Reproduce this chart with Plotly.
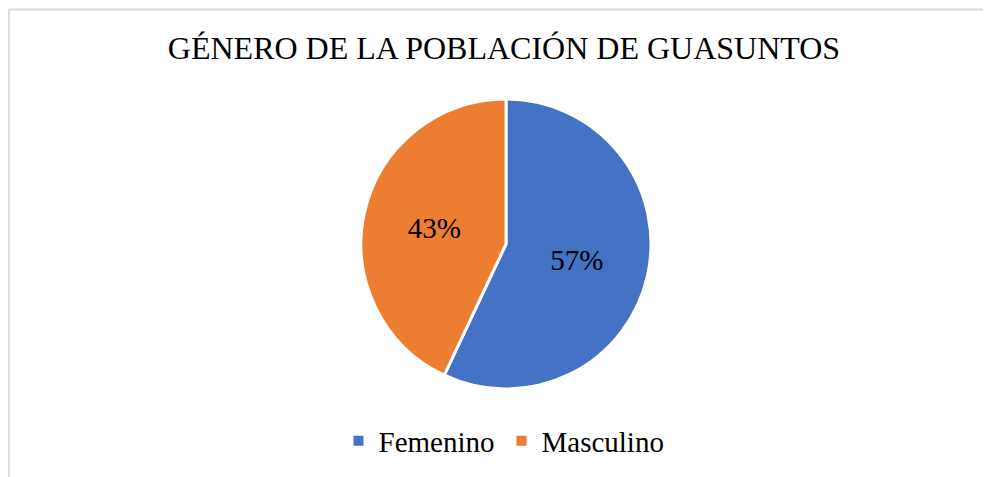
import plotly.graph_objects as go

categories = ["Femenino", "Masculino"]
values = [57, 43]
colors = ["#4472C4", "#ED7D31"]
title_text = "GÉNERO DE LA POBLACIÓN DE GUASUNTOS"

W, H = 991, 477
OFF = 8  # page body margin offset
cx, cy, r = 506 - OFF, 244 - OFF, 145
SERIF = "Liberation Serif, Times New Roman, serif"

fig = go.Figure(go.Pie(
    labels=categories,
    values=values,
    sort=False,
    direction="clockwise",
    rotation=0,
    marker=dict(colors=colors, line=dict(color="white", width=3)),
    textinfo="percent",
    texttemplate="%{percent:.0%}",
    textposition="inside",
    insidetextorientation="horizontal",
    textfont=dict(family=SERIF, size=29, color="#000000"),
    insidetextfont=dict(family=SERIF, size=29, color="#000000"),
    domain=dict(x=[(cx - r) / W, (cx + r) / W], y=[(H - cy - r) / H, (H - cy + r) / H]),
    hoverinfo="label+percent",
))

fig.update_layout(
    width=W, height=H,
    margin=dict(l=0, r=0, t=0, b=0, autoexpand=False),
    font=dict(family=SERIF, color="#000000"),
    paper_bgcolor="white",
    plot_bgcolor="white",
    title=dict(text=title_text, x=(504 - OFF) / W, xanchor="center", y=1 - (48 - OFF) / H, yanchor="middle",
               font=dict(family=SERIF, size=32, color="#000000")),
    legend=dict(orientation="h", x=0.5 - 2 / W, xanchor="center", y=1 - (441 - OFF) / H, yanchor="middle",
                font=dict(family=SERIF, size=29, color="#000000"),
                itemsizing="constant", traceorder="normal", entrywidth=118),
    shapes=[
        dict(type="line", xref="paper", yref="paper", x0=0.8 / W, x1=1.05, y0=1 - 1.5 / H, y1=1 - 1.5 / H,
             line=dict(color="#D9D9D9", width=2)),
        dict(type="line", xref="paper", yref="paper", x0=0.8 / W, x1=0.8 / W, y0=1 - 1.5 / H, y1=-0.05,
             line=dict(color="#D9D9D9", width=2)),
    ],
)

fig.write_html("out.html")
